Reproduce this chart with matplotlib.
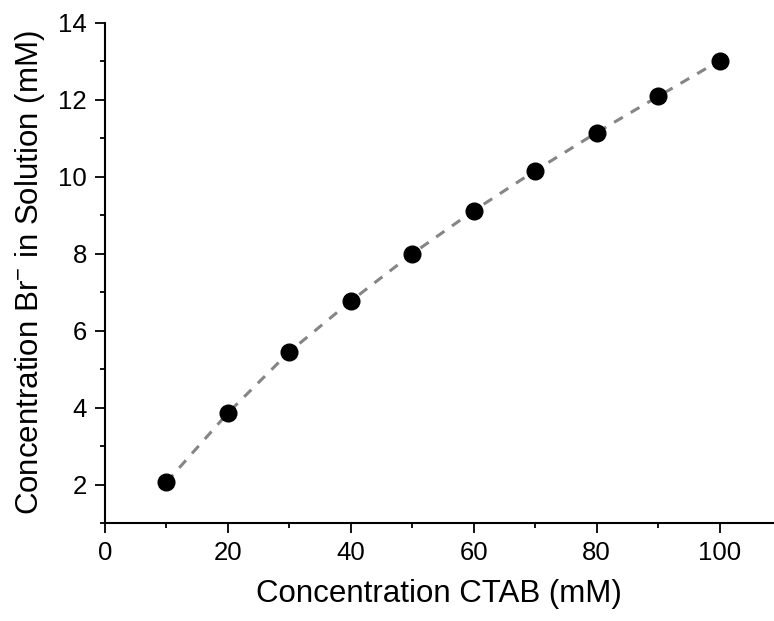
import matplotlib
matplotlib.use('Agg')
import matplotlib.pyplot as plt
from matplotlib.ticker import MultipleLocator

plt.rcParams['font.family'] = ['Liberation Sans', 'DejaVu Sans']
plt.rcParams['mathtext.fontset'] = 'custom'
plt.rcParams['mathtext.rm'] = 'Liberation Sans'

ctab = [10, 20, 30, 40, 50, 60, 70, 80, 90, 100]
br = [2.06, 3.86, 5.45, 6.77, 8.00, 9.12, 10.16, 11.15, 12.09, 13.02]

fig = plt.figure(figsize=(7.74, 6.21), dpi=100)
ax = fig.add_axes([105/774, 1 - 523/621, 668/774, 500/621])

ax.plot(ctab, br, '--', color='#858585', lw=2.2, dashes=(3.3, 3), zorder=1)
ax.plot(ctab, br, 'o', color='black', ms=12, zorder=2)

ax.set_xlim(0, 108.7)
ax.set_ylim(1, 14)
ax.xaxis.set_major_locator(MultipleLocator(20))
ax.xaxis.set_minor_locator(MultipleLocator(10))
ax.yaxis.set_major_locator(MultipleLocator(2))
ax.yaxis.set_minor_locator(MultipleLocator(1))

for s in ['top', 'right']:
    ax.spines[s].set_visible(False)
for s in ['left', 'bottom']:
    ax.spines[s].set_linewidth(1.5)

ax.tick_params(which='major', length=7, width=1.3, labelsize=18.5, pad=6)
ax.tick_params(which='minor', length=3.5, width=1.3)

ax.set_xlabel('Concentration CTAB (mM)', fontsize=22.5, labelpad=10)
ax.set_ylabel(r'Concentration Br$^{\mathregular{-}}$ in Solution (mM)', fontsize=22.5, labelpad=8)

fig.savefig('out.png', dpi=100)
